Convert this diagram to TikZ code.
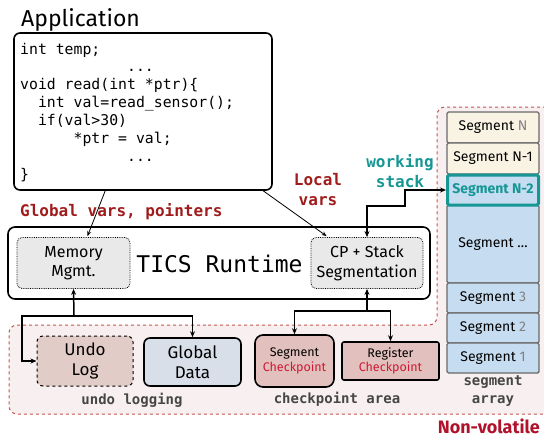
\documentclass[tikz,border=0pt]{standalone}
\usepackage{fontspec}
\setmainfont{Fira Sans}
\newfontfamily\codefont{DejaVu Sans Mono}
\usetikzlibrary{arrows.meta,calc}
\definecolor{lbl}{RGB}{160,28,28}
\definecolor{tealc}{RGB}{22,150,148}
\definecolor{lblgray}{RGB}{70,70,70}
\definecolor{nvred}{RGB}{175,18,42}
\definecolor{cpred}{RGB}{205,25,50}
\definecolor{nvfill}{RGB}{248,240,240}
\definecolor{nvline}{RGB}{195,85,80}
\definecolor{undofill}{RGB}{226,204,200}
\definecolor{cpfill}{RGB}{226,192,189}
\definecolor{gdfill}{RGB}{217,223,233}
\definecolor{mmfill}{RGB}{233,233,233}
\definecolor{segcream}{RGB}{249,243,228}
\definecolor{segblue}{RGB}{198,221,241}
\definecolor{segline}{RGB}{105,105,105}
\definecolor{numgray}{RGB}{128,128,128}
\tikzset{
  bigbox/.style={draw, line width=1.6pt, rounded corners=7pt, inner sep=0pt},
  dotbox/.style={draw, densely dotted, line width=0.8pt, rounded corners=5pt, fill=mmfill, inner sep=0pt, align=center, font=\fontsize{16}{19.5}\selectfont},
  memtxt/.style={inner sep=0pt, align=center, font=\fontsize{16}{20}\selectfont},
  codeline/.style={anchor=base west, inner sep=0pt, font=\codefont\fontsize{14.8}{18}\selectfont},
  redlbl/.style={inner sep=0pt, align=center, text=lbl, font=\codefont\bfseries\fontsize{16}{20}\selectfont},
  graylbl/.style={inner sep=0pt, align=center, text=lblgray, font=\codefont\bfseries\fontsize{14}{18}\selectfont},
  seg/.style={draw=segline, line width=1.4pt, rounded corners=1.5pt, minimum width=92pt, inner sep=0pt, font=\fontsize{14}{16}\selectfont},
  conn/.style={line width=1.5pt, -{Stealth[length=6pt,width=5pt]}},
  thinconn/.style={line width=0.8pt, -{Stealth[length=5pt,width=4pt]}},
  nvregion/.style={draw=nvline, fill=nvfill, dashed, line width=1pt, rounded corners=8pt}
}
\begin{document}
\begin{tikzpicture}[x=1pt,y=-1pt]
\useasboundingbox (0,0) rectangle (544,437);
\clip (0,0) rectangle (544,437);
% non-volatile region
\path[nvregion] (200,325) -- (437,325) -- (437,107) -- (552,107) -- (552,414) -- (9,414) -- (9,325) -- cycle;
\node[anchor=base east, inner sep=0pt, text=nvred, font=\bfseries\fontsize{18}{22}\selectfont] (nvlabel) at (540,433) {Non-volatile};

% application
\node[anchor=base west, inner sep=0pt, font=\fontsize{23}{26}\selectfont] (apptitle) at (21,26) {Application};
\node[bigbox, rounded corners=6pt, minimum width=258pt, minimum height=157pt] (code) at (143,111.5) {};
\node[codeline] (c1) at (20,54) {int temp;};
\node[codeline] (c2) at (20,71.9) {\phantom{xxxxxxxxxxxx}...};
\node[codeline] (c3) at (20,89.8) {void read(int *ptr)\{};
\node[codeline] (c4) at (20,107.7) {\phantom{xx}int val=read\_sensor();};
\node[codeline] (c5) at (20,125.6) {\phantom{xx}if(val>30)};
\node[codeline] (c6) at (20,143.5) {\phantom{xxxxxx}*ptr = val;};
\node[codeline] (c7) at (20,161.4) {\phantom{xxxxxxxxxxxx}...};
\node[codeline] (c8) at (20,179.3) {\}};

% labels
\node[redlbl, anchor=west] (glbl) at (20,212) {Global vars, pointers};
\node[redlbl] (llbl) at (318,190) {Local\\vars};
\node[redlbl, text=tealc] (wlbl) at (400,171.5) {working\\stack};

% runtime
\node[bigbox, minimum width=422pt, minimum height=72pt] (rt) at (219,263) {};
\node[inner sep=0pt, font=\codefont\fontsize{23}{26}\selectfont] (rtlbl) at (219.5,264) {TICS Runtime};
\node[dotbox, minimum width=113pt, minimum height=51pt] (mem) at (73.5,263) {Memory\\Mgmt.};
\node[dotbox, minimum width=112pt, minimum height=51pt, font=\fontsize{16}{20}\selectfont] (cp) at (367,263) {CP + Stack\\Segmentation};

% persistent boxes
\node[draw, dashed, line width=1pt, rounded corners=6pt, fill=undofill, minimum width=96pt, minimum height=50pt, memtxt, font=\fontsize{17}{20}\selectfont] (undo) at (85,361) {Undo\\Log};
\node[draw, line width=1.6pt, rounded corners=6pt, fill=gdfill, minimum width=97pt, minimum height=48pt, memtxt, font=\fontsize{17}{20}\selectfont] (global) at (192.5,362) {Global\\Data};
\node[draw, line width=1.6pt, rounded corners=8pt, fill=cpfill, minimum width=79pt, minimum height=52pt, memtxt, font=\fontsize{12.5}{14.5}\selectfont] (segcp) at (294.5,361) {Segment\\\textcolor{cpred}{Checkpoint}};
\node[draw, line width=1.6pt, rounded corners=2pt, fill=cpfill, minimum width=97pt, minimum height=38pt, memtxt, font=\fontsize{12.5}{14.5}\selectfont] (regcp) at (390.5,361) {Register\\\textcolor{cpred}{Checkpoint}};
\node[graylbl] (ulbl) at (132,400) {undo logging};
\node[graylbl] (clbl) at (337,399) {checkpoint area};

% segment array
\node[seg, fill=segcream, minimum height=31pt] (sN) at (493,127.5) {Segment \textcolor{numgray}{N}};
\node[seg, fill=segcream, minimum height=31pt] (sN1) at (493,158.5) {Segment N-1};
\node[seg, fill=segblue, minimum height=78pt] (sdots) at (493,244) {Segment …};
\node[seg, fill=segblue, minimum height=30pt] (s3) at (493,298) {Segment \textcolor{numgray}{3}};
\node[seg, fill=segblue, minimum height=30pt] (s2) at (493,328) {Segment \textcolor{numgray}{2}};
\node[seg, fill=segblue, minimum height=30pt] (s1) at (493,358) {Segment \textcolor{numgray}{1}};
\node[seg, fill=segblue, draw=tealc, line width=3pt, minimum width=91pt, minimum height=30pt, text=tealc, font=\bfseries\fontsize{14}{16}\selectfont] (sN2) at (493,190) {Segment N-2};
\node[graylbl] (albl) at (493,391) {segment\\array};

% connectors
\draw[thinconn] ($(code.south west)+(92,0)$) -- ($(mem.north)+(14,-1)$);
\draw[thinconn] ($(code.south east)+(-11,-1)$) -- ($(cp.north west)+(16,-1)$);
\draw[line width=1.5pt, {Stealth[length=6pt,width=5pt]}-{Stealth[length=6pt,width=5pt]}] (cp.north) |- (405,206) |- (sN2.west);
\coordinate (j1) at (74,316);
\draw[conn] (j1) -- (mem.south);
\draw[conn] (j1) -| (global.north);
\draw[conn] (j1) -- (22,316) |- (undo.west);
\coordinate (j2) at (367,311);
\draw[conn] (j2) -- (cp.south);
\draw[conn] (j2) -| (segcp.north);
\draw[conn] (j2) -| (regcp.north);
\end{tikzpicture}
\end{document}
